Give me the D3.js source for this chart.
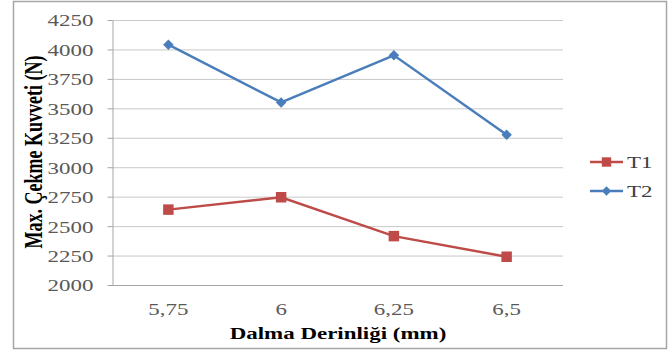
<!DOCTYPE html>
<html>
<head>
<meta charset="utf-8">
<script src="https://cdn.jsdelivr.net/npm/d3@7"></script>
<style>
  body { margin: 0; background: #fff; }
</style>
</head>
<body>
<script>
const categories = ['5,75', '6', '6,25', '6,5'];
const t1Values = [2640, 2745, 2415, 2240];
const t2Values = [4040, 3550, 3950, 3275];
const yTicks = [2000, 2250, 2500, 2750, 3000, 3250, 3500, 3750, 4000, 4250];
const seriesNames = ['T1', 'T2'];

const width = 672;
const height = 352;
const margin = { top: 20, right: 109, bottom: 67, left: 112 };
const stretch = 1.35; // reference text is a bit wide
const serif = '"Liberation Serif", "Times New Roman", Times, serif';

const svg = d3.select('body')
    .append('svg')
    .attr('width', width)
    .attr('height', height)
    .attr('font-family', serif);

// outer frame
svg.append('rect')
    .attr('x', 13.5)
    .attr('y', 1.5)
    .attr('width', 653)
    .attr('height', 347)
    .attr('fill', 'none')
    .attr('stroke', '#a6a6a6')
    .attr('stroke-width', 1.5);

const x = d3.scaleBand()
    .domain(categories)
    .range([margin.left, width - margin.right]);

const y = d3.scaleLinear()
    .domain([2000, 4250])
    .range([height - margin.bottom, margin.top]);

// gridlines
svg.append('g')
    .selectAll('line')
    .data(yTicks)
    .join('line')
    .attr('x1', margin.left)
    .attr('x2', width - margin.right)
    .attr('y1', d => y(d) + 0.5)
    .attr('y2', d => y(d) + 0.5)
    .attr('stroke', d => d === 2000 ? '#a6a6a6' : '#c8c8c8')
    .attr('stroke-width', 1);

// y axis
const yAxis = svg.append('g')
    .attr('transform', `translate(${margin.left + 0.5},0)`)
    .call(d3.axisLeft(y).tickValues(yTicks).tickFormat(d3.format('d')).tickSize(5).tickSizeOuter(0));

yAxis.attr('font-family', serif);
yAxis.select('.domain').attr('stroke', '#a6a6a6');
yAxis.selectAll('.tick line').attr('stroke', '#a6a6a6');
yAxis.selectAll('.tick text')
    .attr('x', 0)
    .attr('dy', '0.35em')
    .attr('transform', `translate(-19,0) scale(${stretch},1)`)
    .attr('font-size', 17)
    .attr('fill', '#595959');

// x labels
svg.append('g')
    .selectAll('text')
    .data(categories)
    .join('text')
    .attr('transform', d => `translate(${x(d) + x.bandwidth() / 2},315) scale(${stretch},1)`)
    .attr('text-anchor', 'middle')
    .attr('font-size', 17)
    .attr('fill', '#595959')
    .text(d => d);

// axis titles
svg.append('text')
    .attr('transform', `translate(338,339) scale(${stretch},1)`)
    .attr('text-anchor', 'middle')
    .attr('font-size', 17)
    .attr('font-weight', 'bold')
    .attr('fill', '#000')
    .text('Dalma Derinliği (mm)');

svg.append('text')
    .attr('transform', `translate(42,152) scale(${stretch},1) rotate(-90)`)
    .attr('text-anchor', 'middle')
    .attr('font-size', 18)
    .attr('font-weight', 'bold')
    .attr('fill', '#000')
    .text('Max. Çekme Kuvveti (N)');

const series = [
    { name: seriesNames[0], values: t1Values, color: '#be4b48', size: 110, rot: 0 },
    { name: seriesNames[1], values: t2Values, color: '#4a7ebb', size: 55, rot: 45 }
];

const line = d3.line()
    .x((d, i) => x(categories[i]) + x.bandwidth() / 2)
    .y(d => y(d));

series.forEach(s => {
    svg.append('path')
        .datum(s.values)
        .attr('d', line)
        .attr('fill', 'none')
        .attr('stroke', s.color)
        .attr('stroke-width', 2.5);

    svg.append('g')
        .selectAll('path')
        .data(s.values)
        .join('path')
        .attr('transform', (d, i) => `translate(${x(categories[i]) + x.bandwidth() / 2},${y(d)}) rotate(${s.rot})`)
        .attr('d', d3.symbol(d3.symbolSquare, s.size))
        .attr('fill', s.color);
});

// legend
const legend = svg.append('g')
    .selectAll('g')
    .data(series)
    .join('g')
    .attr('transform', (d, i) => `translate(590,${162 + i * 29})`);

legend.append('line')
    .attr('x1', 0)
    .attr('x2', 33)
    .attr('stroke', d => d.color)
    .attr('stroke-width', 2.5);

legend.append('path')
    .attr('transform', d => `translate(16.5,0) rotate(${d.rot})`)
    .attr('d', d => d3.symbol(d3.symbolSquare, d.size * 0.8)())
    .attr('fill', d => d.color);

legend.append('text')
    .attr('transform', `translate(37,0) scale(${stretch},1)`)
    .attr('dy', '0.35em')
    .attr('font-size', 17)
    .attr('fill', '#404040')
    .text(d => d.name);
</script>
</body>
</html>
